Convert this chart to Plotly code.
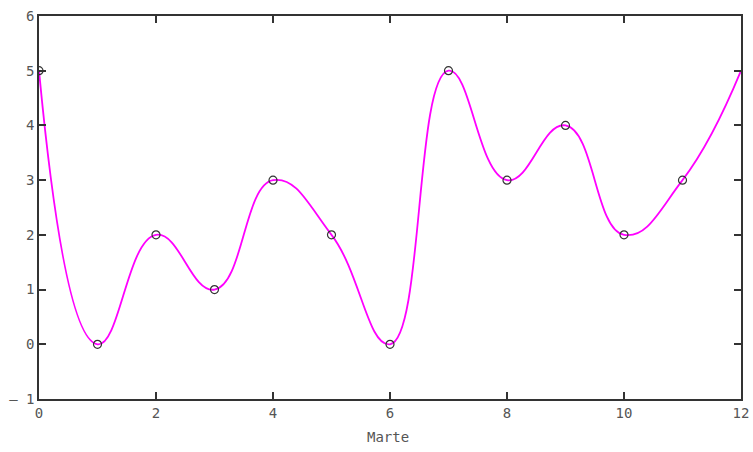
import plotly.graph_objects as go

# Data
x_points = [0, 1, 2, 3, 4, 5, 6, 7, 8, 9, 10, 11]
y_points = [5, 0, 2, 1, 3, 2, 0, 5, 3, 4, 2, 3]
x_curve = [0, 1, 2, 3, 4, 5, 6, 7, 8, 9, 10, 11, 12]
y_curve = [5, 0, 2, 1, 3, 2, 0, 5, 3, 4, 2, 3, 5]
x_ticks = [0, 2, 4, 6, 8, 10, 12]
y_ticks = [-1, 0, 1, 2, 3, 4, 5, 6]
x_title = "Marte"

fig = go.Figure()
fig.add_trace(go.Scatter(
    x=x_curve, y=y_curve, mode="lines",
    line=dict(color="#ff00ff", width=1.8, shape="spline", smoothing=1.3),
    showlegend=False, hoverinfo="skip",
))
fig.add_trace(go.Scatter(
    x=x_points, y=y_points, mode="markers",
    marker=dict(symbol="circle-open", size=8, color="#333333", line=dict(width=1.2, color="#333333")),
    showlegend=False,
))

axis_common = dict(
    showline=True, linecolor="#333333", linewidth=1.5, mirror="ticks",
    ticks="inside", ticklen=7, tickwidth=1.5, tickcolor="#333333",
    showgrid=False, zeroline=False, automargin=False,
    tickfont=dict(family="DejaVu Sans Mono", size=14, color="#555555"),
)

fig.update_xaxes(range=[0, 12], tickvals=x_ticks, ticktext=[str(v) for v in x_ticks], **axis_common)
fig.update_yaxes(range=[-1, 6], tickvals=y_ticks, ticktext=[("\u2013 1" if v == -1 else str(v)) for v in y_ticks], **axis_common)

fig.add_annotation(
    text=x_title, xref="paper", yref="paper", x=0.497, y=-0.1, yanchor="middle",
    showarrow=False, font=dict(family="DejaVu Sans Mono", size=14, color="#555555"),
)

fig.update_layout(
    width=753, height=452,
    margin=dict(l=39, r=12, t=16, b=53),
    plot_bgcolor="white", paper_bgcolor="white",
)

fig.write_html(
    "out.html",
    config={"displayModeBar": False},
    post_script="document.body.style.margin='0';document.body.style.overflow='hidden';",
)
